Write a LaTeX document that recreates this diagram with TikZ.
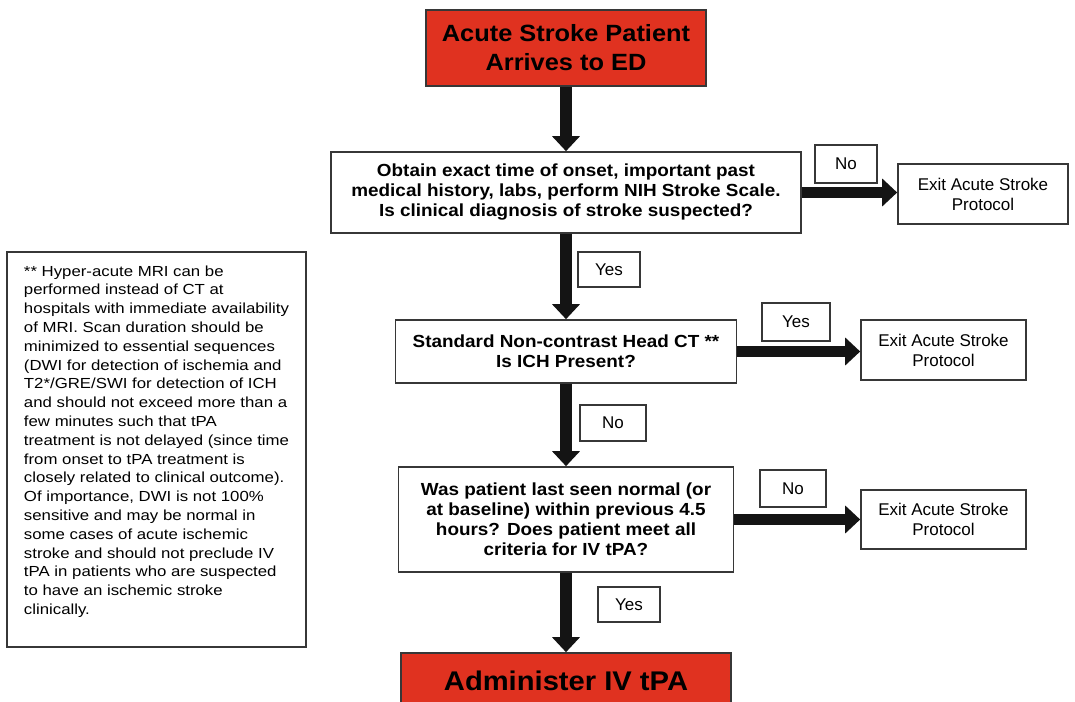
\documentclass[tikz,border=0pt]{standalone}
\usepackage{fontspec}
\setmainfont{Liberation Sans}
\newfontfamily\boxfont[FakeStretch=1.08]{Liberation Sans}
\newfontfamily\notefont[FakeStretch=1.15]{Liberation Sans}
\usetikzlibrary{arrows.meta,positioning,calc}
\definecolor{alertred}{RGB}{224,50,32}
\definecolor{framegray}{RGB}{55,55,55}
\definecolor{arrowblack}{RGB}{20,20,20}

\begin{document}
\begin{tikzpicture}[x=1pt, y=-1pt,
  box/.style={rectangle, draw=framegray, line width=1.6pt, fill=white,
              align=center, inner sep=0pt},
  alert/.style={box, fill=alertred, font=\boxfont\bfseries\fontsize{23.5}{29}\selectfont},
  ask/.style={box, font=\boxfont\bfseries\fontsize{17.5}{20}\selectfont},
  exitbox/.style={box, font=\fontsize{17}{20}\selectfont},
  tag/.style={box, line width=1.2pt, font=\fontsize{17}{20}\selectfont},
  note/.style={box, line width=1.4pt, align=left,
               font=\notefont\fontsize{14.6}{18.8}\selectfont},
  arr/.style={-{Triangle[length=15pt, width=27pt]}, line width=11.5pt, draw=arrowblack},
]
\useasboundingbox (0,0) rectangle (1075,701);

% Main column
\node[alert, minimum width=280pt, minimum height=76pt] (arrive) at (566,48)
  {Acute Stroke Patient\\Arrives to ED};
\node[ask, minimum width=470pt, minimum height=81pt] (onset) at (566,192.5)
  {Obtain exact time of onset, important past\\medical history, labs, perform NIH Stroke Scale.\\Is clinical diagnosis of stroke suspected?};
\node[ask, minimum width=341pt, minimum height=63pt] (ct) at (566,351.5)
  {Standard Non-contrast Head CT **\\Is ICH Present?};
\node[ask, minimum width=335pt, minimum height=105pt] (window) at (566,519.5)
  {Was patient last seen normal (or\\at baseline) within previous 4.5\\hours? Does patient meet all\\criteria for IV tPA?};
\node[alert, font=\boxfont\bfseries\fontsize{27}{31}\selectfont,
      minimum width=330pt, minimum height=56pt] (tpa) at (566,681)
  {Administer IV tPA};

% Exit boxes
\node[exitbox, minimum width=170pt, minimum height=60pt] (exitA) at (983,194)
  {Exit Acute Stroke\\Protocol};
\node[exitbox, minimum width=165pt, minimum height=60pt] (exitB) at (943.5,350)
  {Exit Acute Stroke\\Protocol};
\node[exitbox, minimum width=165pt, minimum height=59pt] (exitC) at (943.5,519.5)
  {Exit Acute Stroke\\Protocol};

% Answer tags
\node[tag, minimum width=62pt, minimum height=38pt] (noA)  at (846,164)   {No};
\node[tag, minimum width=62pt, minimum height=35pt] (yesA) at (609,269.5) {Yes};
\node[tag, minimum width=68pt, minimum height=38pt] (yesB) at (796,322)   {Yes};
\node[tag, minimum width=66pt, minimum height=36pt] (noB)  at (613,423)   {No};
\node[tag, minimum width=66pt, minimum height=37pt] (noC)  at (793,488.5) {No};
\node[tag, minimum width=62pt, minimum height=35pt] (yesC) at (629,604.5) {Yes};

% Side note
\node[note, minimum width=299pt, minimum height=395pt] (mri) at (156.5,449.5)
  {** Hyper-acute MRI can be\\performed instead of CT at\\hospitals with immediate availability\\of MRI. Scan duration should be\\minimized to essential sequences\\(DWI for detection of ischemia and\\T2*/GRE/SWI for detection of ICH\\and should not exceed more than a\\few minutes such that tPA\\treatment is not delayed (since time\\from onset to tPA treatment is\\closely related to clinical outcome).\\Of importance, DWI is not 100\%\\sensitive and may be normal in\\some cases of acute ischemic\\stroke and should not preclude IV\\tPA in patients who are suspected\\to have an ischemic stroke\\clinically.\\\rule{0pt}{1pt}};

% Arrows
\draw[arr] (arrive.south) -- (onset.north);
\draw[arr] (onset.south)  -- (ct.north);
\draw[arr] (ct.south)     -- (window.north);
\draw[arr] (window.south) -- (tpa.north);

\draw[arr] (onset.east)  -- (onset.east -| exitA.west);
\draw[arr] (ct.east)     -- (ct.east -| exitB.west);
\draw[arr] (window.east) -- (window.east -| exitC.west);
\end{tikzpicture}
\end{document}
